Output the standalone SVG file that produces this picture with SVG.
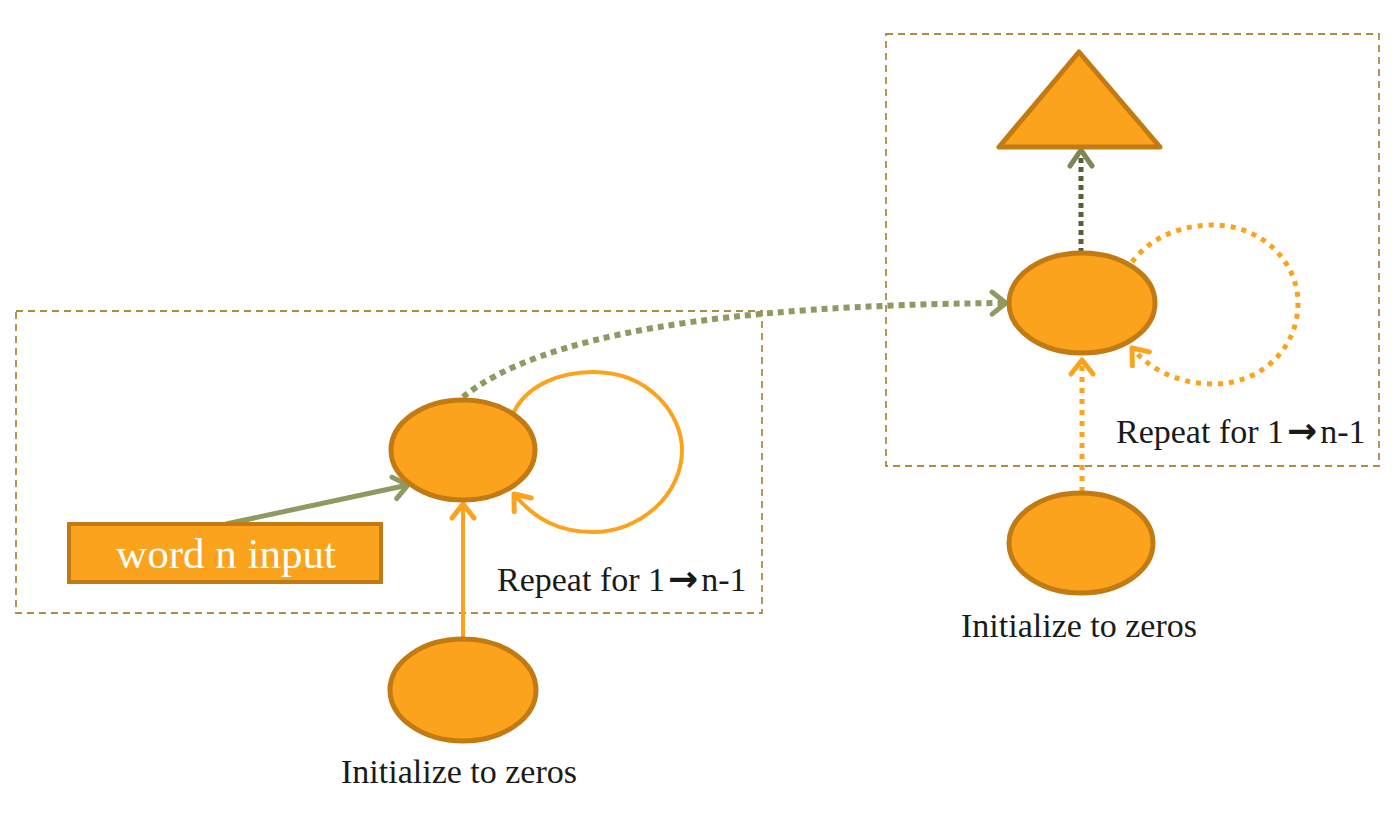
<svg xmlns="http://www.w3.org/2000/svg" width="1400" height="814" viewBox="0 0 1400 814">
<style>
.box{fill:none;stroke:#ad8c44;stroke-width:1.8;stroke-dasharray:7 5}
.node{fill:#fba31d;stroke:#c27b12;stroke-width:5}
.lbl{font-family:"Liberation Serif","Times New Roman",serif;fill:#1a1a1a}
.ar{font-family:"DejaVu Sans",sans-serif;font-weight:bold}
.orange{fill:none;stroke:#fba31d;stroke-width:4}
.orangeDot{fill:none;stroke:#fba31d;stroke-width:5;stroke-dasharray:5 6}
.olive{fill:none;stroke:#8f9a62;stroke-width:5}
.oliveDot{fill:none;stroke:#8f9a62;stroke-width:6;stroke-dasharray:6 5}
.darkDot{fill:none;stroke:#5a5f3a;stroke-width:5;stroke-dasharray:5 4}
</style>
<defs>
<marker id="arrO" markerUnits="userSpaceOnUse" markerWidth="30" markerHeight="30" viewBox="-20 -15 25 30" refX="0" refY="0" orient="auto"><path d="M-14,-11 L0,0 L-14,11" fill="none" stroke="#fba31d" stroke-width="5" stroke-linecap="round" stroke-linejoin="round"/></marker>
<marker id="arrG" markerUnits="userSpaceOnUse" markerWidth="30" markerHeight="30" viewBox="-20 -15 25 30" refX="0" refY="0" orient="auto"><path d="M-14,-11 L0,0 L-14,11" fill="none" stroke="#8f9a62" stroke-width="5" stroke-linecap="round" stroke-linejoin="round"/></marker>
<marker id="arrD" markerUnits="userSpaceOnUse" markerWidth="30" markerHeight="30" viewBox="-20 -15 25 30" refX="0" refY="0" orient="auto"><path d="M-16,-11 L0,0 L-16,11" fill="none" stroke="#7d8658" stroke-width="5" stroke-linecap="round" stroke-linejoin="round"/></marker>
</defs>
<rect width="1400" height="814" fill="#ffffff"/>
<g id="frames">
<rect class="box" x="16" y="311" width="746" height="302"/>
<rect class="box" x="886" y="34" width="493" height="432"/>
</g>
<g id="connectors">
<path class="olive" d="M226,524 L408,485" marker-end="url(#arrG)"/>
<path class="orange" d="M463,638 L463,504" marker-end="url(#arrO)"/>
<path class="orange" d="M512,416 C525,385 560,372 593,372 C650,372 682,415 682,450 C682,495 640,532 593,532 C560,532 535,520 514,494" marker-end="url(#arrO)"/>
<path class="oliveDot" d="M463,397 C540,335 720,305 1006,303" marker-end="url(#arrG)"/>
<path class="darkDot" d="M1081,253 L1081,150" marker-end="url(#arrD)"/>
<path class="orangeDot" d="M1132,262 C1150,238 1180,225 1213,225 C1262,225 1298,262 1298,303 C1298,348 1262,384 1213,384 C1180,384 1150,370 1132,348" marker-end="url(#arrO)"/>
<path class="orangeDot" d="M1082,492 L1082,360" marker-end="url(#arrO)"/>
</g>
<g id="input">
<rect x="69" y="524" width="312" height="58" fill="#fba31d" stroke="#c27b12" stroke-width="4"/>
<text x="226" y="568" text-anchor="middle" font-family="Liberation Serif, Times New Roman, serif" font-size="43" fill="#ffffff">word n input</text>
</g>
<g id="hidden-left"><ellipse class="node" cx="463" cy="450" rx="72" ry="50"/></g>
<g id="init-left"><ellipse class="node" cx="463" cy="690" rx="73" ry="51"/></g>
<g id="hidden-right"><ellipse class="node" cx="1082" cy="303" rx="73" ry="50"/></g>
<g id="init-right"><ellipse class="node" cx="1081" cy="543" rx="72" ry="50"/></g>
<g id="output"><polygon class="node" points="1079,52 999,147 1160,147" stroke-linejoin="round"/></g>
<g id="labels">
<text class="lbl" x="497" y="591" font-size="34">Repeat for 1<tspan class="ar" font-size="36" dx="3">→</tspan><tspan dx="3">n-1</tspan></text>
<text class="lbl" x="1116" y="443" font-size="34">Repeat for 1<tspan class="ar" font-size="36" dx="3">→</tspan><tspan dx="3">n-1</tspan></text>
<text class="lbl" x="459" y="783" font-size="34" text-anchor="middle">Initialize to zeros</text>
<text class="lbl" x="1079" y="637" font-size="34" text-anchor="middle">Initialize to zeros</text>
</g>
</svg>
